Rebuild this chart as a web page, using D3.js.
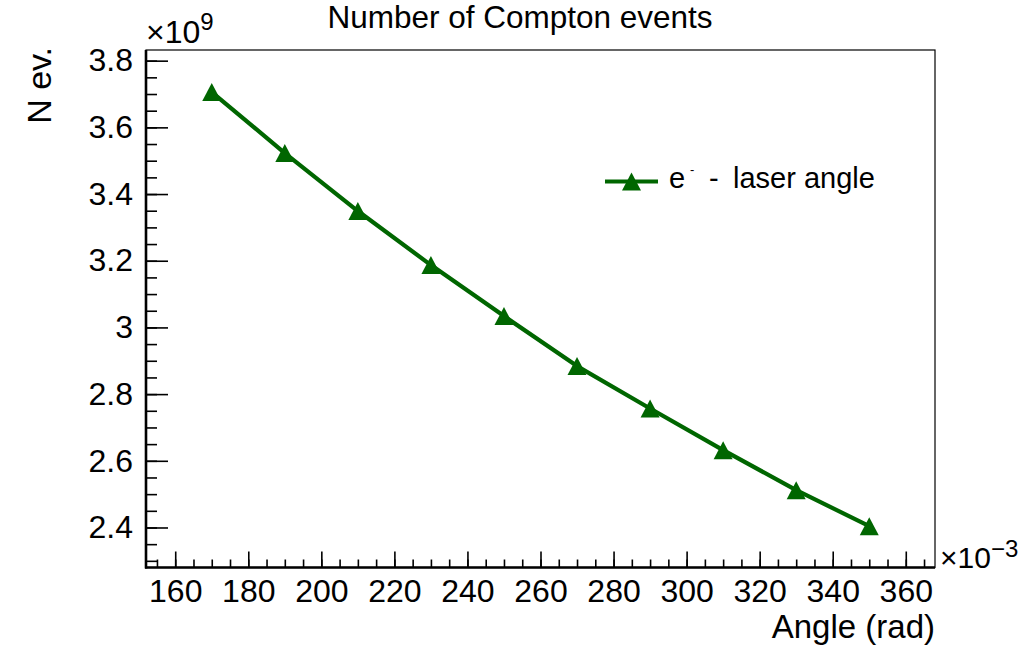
<!DOCTYPE html>
<html>
<head>
<meta charset="utf-8">
<script src="https://cdn.jsdelivr.net/npm/d3@7"></script>
<style>
  body { margin: 0; background: #fff; }
  text { font-family: "Liberation Sans", Arial, Helvetica, sans-serif; }
</style>
</head>
<body>
<div id="chart"></div>
<script>
// Data (angle in 10^-3 rad, events in 10^9)
let angles = [170, 190, 210, 230, 250, 270, 290, 310, 330, 350];
let events = [3.706, 3.523, 3.349, 3.187, 3.034, 2.884, 2.757, 2.632, 2.512, 2.404];
let xTicks = [160, 180, 200, 220, 240, 260, 280, 300, 320, 340, 360];
let yTicks = [2.4, 2.6, 2.8, 3.0, 3.2, 3.4, 3.6, 3.8];
let xMinor = d3.range(155, 366, 5);
let yMinor = d3.range(2.3, 3.83, 0.05);

let width = 1032;
let height = 649;

let frameLeft = 146;
let frameRight = 935;
let frameTop = 50;
let frameBottom = 567.5;

let green = "#006600";

let svg = d3.select("#chart").append("svg")
  .attr("width", width)
  .attr("height", height)
  .style("background", "#fff");

// Scales (ROOT style: 10% margin round the data)
let x = d3.scaleLinear()
  .domain([152, 368])
  .range([frameLeft, frameRight]);

let y = d3.scaleLinear()
  .domain([2.28, 3.832])
  .range([frameBottom, frameTop]);

// Axes, ticks pointing inside the frame
let xAxis = d3.axisBottom(x)
  .tickValues(xTicks)
  .tickSizeInner(-16)
  .tickSizeOuter(0)
  .tickPadding(12)
  .tickFormat(d3.format("d"));

let xAxisMinor = d3.axisBottom(x)
  .tickValues(xMinor)
  .tickSizeInner(-8)
  .tickSizeOuter(0)
  .tickFormat("");

let yAxis = d3.axisLeft(y)
  .tickValues(yTicks)
  .tickSizeInner(-22)
  .tickSizeOuter(0)
  .tickPadding(13)
  .tickFormat(d => d3.format("~g")(d));

let yAxisMinor = d3.axisLeft(y)
  .tickValues(yMinor)
  .tickSizeInner(-11)
  .tickSizeOuter(0)
  .tickFormat("");

function styleAxis(g) {
  g.select(".domain").remove();
  g.selectAll("line").attr("stroke", "#000").attr("stroke-width", 1.6);
  g.selectAll("text")
    .attr("fill", "#000")
    .style("font-size", "32px")
    .style("font-family", "\"Liberation Sans\", Arial, sans-serif");
}

svg.append("g")
  .attr("transform", "translate(0," + frameBottom + ")")
  .call(xAxisMinor)
  .call(styleAxis);

svg.append("g")
  .attr("transform", "translate(0," + frameBottom + ")")
  .call(xAxis)
  .call(styleAxis);

svg.append("g")
  .attr("transform", "translate(" + frameLeft + ",0)")
  .call(yAxisMinor)
  .call(styleAxis);

svg.append("g")
  .attr("transform", "translate(" + frameLeft + ",0)")
  .call(yAxis)
  .call(styleAxis);

// Frame
svg.append("rect")
  .attr("x", frameLeft)
  .attr("y", frameTop)
  .attr("width", frameRight - frameLeft)
  .attr("height", frameBottom - frameTop)
  .attr("fill", "none")
  .attr("stroke", "#000")
  .attr("stroke-width", 1.2);

svg.append("line")
  .attr("x1", frameLeft).attr("x2", frameLeft)
  .attr("y1", frameTop).attr("y2", frameBottom + 1)
  .attr("stroke", "#000")
  .attr("stroke-width", 2.6);

svg.append("line")
  .attr("x1", frameLeft - 1).attr("x2", frameRight)
  .attr("y1", frameBottom).attr("y2", frameBottom)
  .attr("stroke", "#000")
  .attr("stroke-width", 2.6);

// Graph line + triangle markers
let points = angles.map((a, i) => [a, events[i]]);

svg.append("path")
  .datum(points)
  .attr("fill", "none")
  .attr("stroke", green)
  .attr("stroke-width", 4.2)
  .attr("stroke-linejoin", "round")
  .attr("d", d3.line().x(d => x(d[0])).y(d => y(d[1])));

let triangle = "M0,-9L9.5,9L-9.5,9Z";

svg.selectAll(".marker")
  .data(points)
  .enter()
  .append("path")
  .attr("class", "marker")
  .attr("d", triangle)
  .attr("fill", green)
  .attr("transform", d => "translate(" + x(d[0]) + "," + y(d[1]) + ")");

// Title and axis titles
svg.append("text")
  .attr("x", 520)
  .attr("y", 28)
  .attr("text-anchor", "middle")
  .style("font-size", "31.5px")
  .text("Number of Compton events");

svg.append("text")
  .attr("transform", "translate(51,47) rotate(-90)")
  .attr("text-anchor", "end")
  .style("font-size", "34px")
  .text("N ev.");

svg.append("text")
  .attr("x", frameRight)
  .attr("y", 638)
  .attr("text-anchor", "end")
  .style("font-size", "33px")
  .text("Angle (rad)");

// Exponent labels
let yExp = svg.append("text")
  .attr("x", 146)
  .attr("y", 43)
  .style("font-size", "32px");
yExp.append("tspan").text("×10");
yExp.append("tspan").attr("dy", -13).style("font-size", "24px").text("9");

let xExp = svg.append("text")
  .attr("x", 940)
  .attr("y", 568)
  .style("font-size", "30px");
xExp.append("tspan").text("×10");
xExp.append("tspan").attr("dy", -11).style("font-size", "24px").text("−3");

// Legend
svg.append("line")
  .attr("x1", 605).attr("x2", 658)
  .attr("y1", 181.5).attr("y2", 181.5)
  .attr("stroke", green)
  .attr("stroke-width", 4.2);

svg.append("path")
  .attr("d", triangle)
  .attr("fill", green)
  .attr("transform", "translate(631.5,181.5)");

let legendText = svg.append("text")
  .attr("x", 669)
  .attr("y", 188)
  .style("font-size", "29px");
legendText.append("tspan").text("e");
legendText.append("tspan").attr("x", 690).attr("dy", -14).style("font-size", "13px").text("-");
legendText.append("tspan").attr("x", 709).attr("dy", 14).text("-");
legendText.append("tspan").attr("x", 733).text("laser angle");
</script>
</body>
</html>
